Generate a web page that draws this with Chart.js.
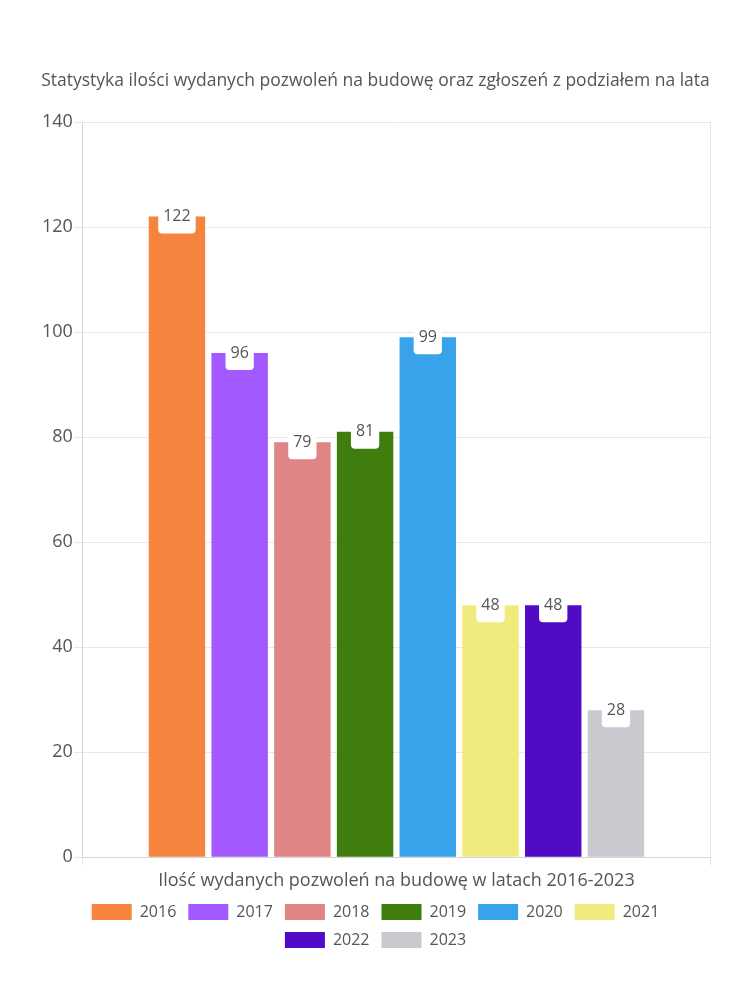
<!DOCTYPE html>
<html>
<head>
<meta charset="utf-8">
<script src="https://cdn.jsdelivr.net/npm/chart.js@4"></script>
<style>
  html, body { margin: 0; padding: 0; background: #fff; }
  #wrap { width: 750px; height: 1000px; }
</style>
</head>
<body>
<div id="wrap"><canvas id="myChart" width="750" height="1000"></canvas></div>
<script>
const lata = ['2016', '2017', '2018', '2019', '2020', '2021', '2022', '2023'];
const pozwolenia = [122, 96, 79, 81, 99, 48, 48, 28];
const kolory = ['#f5843f', '#a259ff', '#e08585', '#3e7d0e', '#38a3ea', '#f0eb7d', '#520bc4', '#c9cacf'];
const kategoria = [''];
const tytul = 'Statystyka ilości wydanych pozwoleń na budowę oraz zgłoszeń z podziałem na lata';
const tytulOsiX = 'Ilość wydanych pozwoleń na budowę w latach 2016-2023';

const czcionka = '"Open Sans", Lato, sans-serif';
const szary = '#555';

// etykiety z wartoscia na gorze slupka (biale pudelko)
const etykiety = {
  id: 'etykiety',
  afterDatasetsDraw(chart) {
    const c = chart.ctx;
    c.save();
    c.font = '16px ' + czcionka;
    c.textAlign = 'center';
    c.textBaseline = 'middle';
    chart.data.datasets.forEach((ds, i) => {
      const meta = chart.getDatasetMeta(i);
      meta.data.forEach((bar, j) => {
        const txt = String(ds.data[j]);
        const w = c.measureText(txt).width + 10;
        const h = 34;
        c.fillStyle = '#fff';
        c.beginPath();
        c.roundRect(bar.x - w / 2, bar.y - h / 2, w, h, 4);
        c.fill();
        c.fillStyle = szary;
        c.fillText(txt, bar.x, bar.y);
      });
    });
    c.restore();
  }
};

const ctx = document.getElementById('myChart');
const wykres = new Chart(ctx, {
  type: 'bar',
  data: {
    labels: kategoria,
    datasets: lata.map((rok, i) => ({
      label: rok,
      data: [pozwolenia[i]],
      backgroundColor: kolory[i],
      borderColor: kolory[i],
      borderWidth: 0
    }))
  },
  options: {
    responsive: false,
    animation: false,
    layout: { padding: { top: 71, left: 41, right: 40, bottom: 42 } },
    plugins: {
      title: {
        display: true,
        text: tytul,
        color: szary,
        font: { family: czcionka, size: 17.5, weight: 'normal' },
        padding: { bottom: 30 }
      },
      legend: {
        position: 'bottom',
        labels: {
          boxWidth: 40,
          boxHeight: 16,
          color: szary,
          font: { family: czcionka, size: 16 },
          padding: 12
        }
      },
      tooltip: { enabled: false }
    },
    scales: {
      x: {
        grid: { color: '#e5e5e5', tickLength: 8 },
        border: { color: '#d5d5d5' },
        ticks: { display: true, font: { size: 1 }, padding: 0 },
        title: {
          display: true,
          text: tytulOsiX,
          color: szary,
          font: { family: czcionka, size: 18 },
          padding: { top: 4, bottom: 0 }
        }
      },
      y: {
        min: 0,
        max: 140,
        ticks: { stepSize: 20, color: szary, font: { family: czcionka, size: 18 }, padding: 1 },
        grid: { color: '#e8e8e8', tickLength: 9 },
        border: { color: '#d5d5d5' }
      }
    }
  },
  plugins: [etykiety]
});
</script>
</body>
</html>
